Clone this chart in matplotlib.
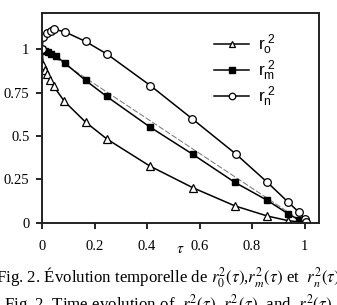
import matplotlib
matplotlib.use("Agg")
import matplotlib.pyplot as plt

# data
tau_o = [0, 0.005, 0.012, 0.02, 0.03, 0.045, 0.085, 0.166, 0.248, 0.41, 0.574, 0.735, 0.858, 0.938, 0.979, 1.0]
r_o = [1.0, 0.91, 0.88, 0.855, 0.825, 0.785, 0.70, 0.58, 0.482, 0.328, 0.203, 0.098, 0.04, 0.013, 0.006, 0.0]

tau_m = [0, 0.011, 0.023, 0.034, 0.053, 0.088, 0.166, 0.246, 0.41, 0.574, 0.734, 0.858, 0.938, 0.979, 1.0]
r_m = [1.0, 0.99, 0.983, 0.973, 0.961, 0.918, 0.82, 0.728, 0.553, 0.395, 0.234, 0.13, 0.052, 0.017, 0.004]

tau_n = [0, 0.005, 0.02, 0.033, 0.047, 0.086, 0.166, 0.249, 0.413, 0.573, 0.738, 0.858, 0.938, 0.979, 1.0, 1.005]
r_n = [1.0, 1.067, 1.09, 1.105, 1.113, 1.10, 1.044, 0.97, 0.79, 0.598, 0.397, 0.234, 0.119, 0.061, 0.023, 0.005]

tau_ref = [0, 1]
r_ref = [1, 0]

xticks = [0, 0.2, 0.4, 0.6, 0.8, 1]
xticklabels = ["0", "0.2", "0.4", "0.6", "0.8", "1"]
yticks = [0, 0.25, 0.5, 0.75, 1]
yticklabels = ["0", "0.25", "0.5", "0.75", "1"]

fig = plt.figure(figsize=(3.37, 3.05), dpi=100)
ax = fig.add_axes([0.1246, 0.269, 0.822, 0.688])

ax.plot(tau_ref, r_ref, color="0.45", lw=0.7, ls=(0, (6, 2)))
ax.plot(tau_o, r_o, color="black", lw=1.1, marker="^", ms=5.5, mfc="white", mec="black", mew=0.9,
        label=r"$\mathregular{r_o^{\ 2}}$")
ax.plot(tau_m, r_m, color="black", lw=1.1, marker="s", ms=5, mfc="black", mec="black",
        label=r"$\mathregular{r_m^{\ 2}}$")
ax.plot(tau_n, r_n, color="black", lw=1.1, marker="o", ms=5.5, mfc="white", mec="black", mew=0.9,
        label=r"$\mathregular{r_n^{\ 2}}$")

ax.set_xlim(0, 1.055)
ax.set_ylim(0, 1.207)
ax.set_xticks(xticks)
ax.set_xticklabels(xticklabels, family="Liberation Serif", fontsize=10.5)
ax.set_yticks(yticks)
ax.set_yticklabels(yticklabels, family="Liberation Serif", fontsize=10.5)
ax.tick_params(direction="out", length=4, width=1.2)
ax.tick_params(axis="x", pad=8)
ax.tick_params(axis="y", pad=5)
for s in ax.spines.values():
    s.set_linewidth(1.4)
    s.set_color("#222222")

ax.text(0.526, -0.12, r"$\tau$", transform=ax.get_xaxis_transform(), ha="center", va="center",
        fontsize=11, math_fontfamily="stix")

leg = ax.legend(loc="upper right", bbox_to_anchor=(0.9, 0.98), frameon=False, fontsize=12.5,
                handlelength=2.0, labelspacing=0.08, handletextpad=0.5, markerscale=0.85)
for t in leg.get_texts():
    t.set_family("Liberation Sans")

fig.text(0.5, 0.088, r"Fig. 2. Évolution temporelle de $r_0^2(\tau)$,$r_m^2(\tau)$ et  $r_n^2(\tau)$",
         ha="center", va="center", family="Liberation Serif", fontsize=12.2, math_fontfamily="stix")
fig.text(0.5, 0.042, r"Fig. 2. Time evolution of  $r_o^2(\tau)$, $r_m^2(\tau)$  and  $r_n^2(\tau)$",
         ha="center", va="top", family="Liberation Serif", fontsize=12.2, math_fontfamily="stix")

fig.savefig("out.png", dpi=100)
